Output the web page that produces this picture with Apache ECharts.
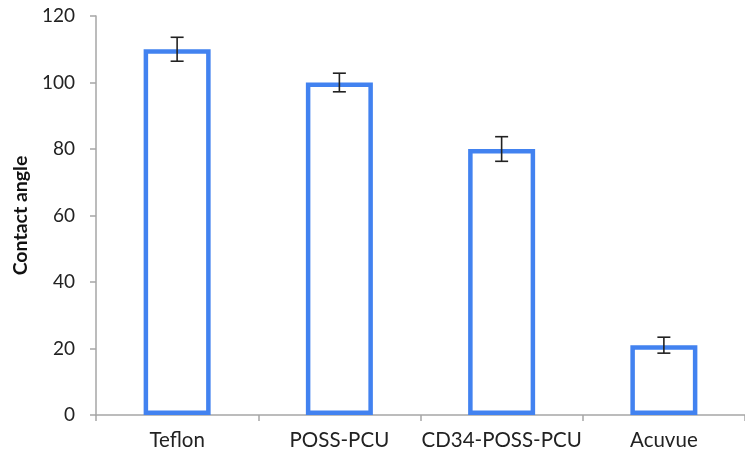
<!DOCTYPE html>
<html>
<head>
<meta charset="utf-8">
<script src="https://cdn.jsdelivr.net/npm/echarts@6/dist/echarts.min.js"></script>
<style>html,body{margin:0;padding:0;background:#fff}#c{width:745px;height:457px}</style>
</head>
<body>
<div id="c"></div>
<script>
const categories = ['Teflon', 'POSS-PCU', 'CD34-POSS-PCU', 'Acuvue'];
const values = [110, 100, 80, 21];
const errors = [3.6, 2.8, 3.7, 2.4];
const yTicks = [0, 20, 40, 60, 80, 100, 120];

const chart = echarts.init(document.getElementById('c'));
const errData = values.map((v, i) => [i, v - errors[i], v + errors[i]]);
chart.setOption({
  animation: false,
  grid: { left: 96, right: -8, top: 16, bottom: 42, containLabel: false },
  xAxis: {
    type: 'category',
    data: categories,
    axisLine: { lineStyle: { color: '#a6a6a6', width: 1.5 } },
    axisTick: { show: true, length: 6, lineStyle: { color: '#a6a6a6', width: 1.5 } },
    axisLabel: { color: '#222', fontSize: 20.5, fontFamily: 'Lato', margin: 15, interval: 0, hideOverlap: false }
  },
  yAxis: {
    type: 'value',
    min: yTicks[0], max: yTicks[yTicks.length - 1], interval: 20,
    name: 'Contact angle',
    nameLocation: 'middle',
    nameGap: 58,
    nameTextStyle: { color: '#111', fontSize: 19.5, fontWeight: 'bold', fontFamily: 'Lato' },
    axisLine: { show: true, lineStyle: { color: '#a6a6a6', width: 1.5 } },
    axisTick: { show: true, length: 6, lineStyle: { color: '#a6a6a6', width: 1.5 } },
    splitLine: { show: false },
    axisLabel: { color: '#222', fontSize: 19, fontFamily: 'Lato', margin: 21 }
  },
  series: [
    {
      type: 'bar',
      data: values,
      barWidth: 67,
      itemStyle: { color: '#ffffff', borderColor: '#4282f0', borderWidth: 4.5 }
    },
    {
      type: 'custom',
      data: errData,
      z: 10,
      renderItem: function (params, api) {
        const x = api.value(0);
        const lo = api.coord([x, api.value(1)]);
        const hi = api.coord([x, api.value(2)]);
        const w = 6.5;
        const st = { stroke: '#222', lineWidth: 1.6 };
        return {
          type: 'group',
          children: [
            { type: 'line', shape: { x1: lo[0], y1: lo[1], x2: hi[0], y2: hi[1] }, style: st },
            { type: 'line', shape: { x1: lo[0] - w, y1: lo[1], x2: lo[0] + w, y2: lo[1] }, style: st },
            { type: 'line', shape: { x1: hi[0] - w, y1: hi[1], x2: hi[0] + w, y2: hi[1] }, style: st }
          ]
        };
      }
    }
  ]
});
</script>
</body>
</html>
